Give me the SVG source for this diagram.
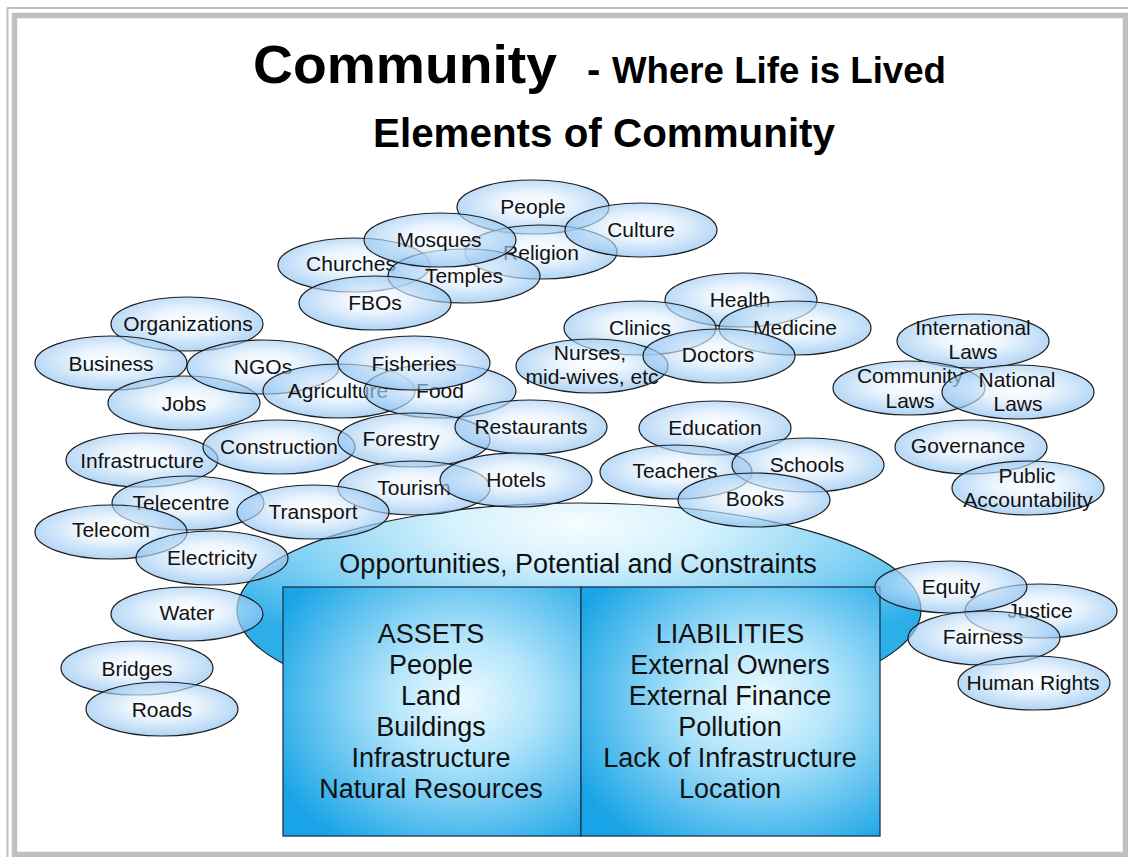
<svg xmlns="http://www.w3.org/2000/svg" width="1128" height="857" viewBox="0 0 1128 857">
<style>
.n ellipse{fill:url(#sg);fill-opacity:.66;stroke:#1e1e1e;stroke-width:1.2}
.n text{font-family:"Liberation Sans",Arial,sans-serif;font-size:21px;fill:#111;text-anchor:middle}
.big{font-family:"Liberation Sans",Arial,sans-serif;font-size:27px;fill:#111;text-anchor:middle}
.ttl{font-family:"Liberation Sans",Arial,sans-serif;font-weight:bold;fill:#000}
</style>
<defs>
<radialGradient id="sg" cx="0.5" cy="0.45" r="0.55">
<stop offset="0" stop-color="#fdfeff"/>
<stop offset="0.4" stop-color="#e2f0fd"/>
<stop offset="1" stop-color="#86bef0"/>
</radialGradient>
<radialGradient id="bg" cx="0.5" cy="0.1" r="0.65">
<stop offset="0" stop-color="#f6fcff"/>
<stop offset="0.28" stop-color="#d6f2fd"/>
<stop offset="0.68" stop-color="#7fd0f4"/>
<stop offset="1" stop-color="#2caee9"/>
</radialGradient>
<radialGradient id="cg" cx="0.6" cy="0.45" r="0.7">
<stop offset="0" stop-color="#eefaff"/>
<stop offset="0.35" stop-color="#b3e5fb"/>
<stop offset="1" stop-color="#18a4e6"/>
</radialGradient>
</defs>
<rect width="1128" height="857" fill="#fff"/>
<g id="frame" fill="none" stroke="#c0c0c0">
<line x1="7" y1="8" x2="1128" y2="8" stroke-width="2"/>
<line x1="7.5" y1="8" x2="7.5" y2="857" stroke-width="2"/>
<rect x="14.5" y="15.5" width="1111" height="839" stroke-width="5.5"/>
</g>
<g id="title">
<text class="ttl" x="253" y="83" font-size="54" textLength="304" lengthAdjust="spacingAndGlyphs">Community</text>
<text class="ttl" x="587" y="83" font-size="40">-</text>
<text class="ttl" x="612" y="83" font-size="36" textLength="334" lengthAdjust="spacingAndGlyphs">Where Life is Lived</text>
<text class="ttl" x="373" y="147" font-size="41" textLength="462" lengthAdjust="spacingAndGlyphs">Elements of Community</text>
</g>
<g id="opportunities">
<ellipse cx="579" cy="610" rx="342" ry="107" fill="url(#bg)" stroke="#1e1e1e" stroke-width="1.2"/>
<text class="big" x="578" y="573">Opportunities, Potential and Constraints</text>
</g>
<g id="balance">
<rect x="283" y="587" width="298" height="249" fill="url(#cg)" stroke="#1b3550" stroke-width="1.3"/>
<rect x="581" y="587" width="299" height="249" fill="url(#cg)" stroke="#1b3550" stroke-width="1.3"/>
<text class="big"><tspan x="431" y="643">ASSETS</tspan><tspan x="431" y="674">People</tspan><tspan x="431" y="705">Land</tspan><tspan x="431" y="736">Buildings</tspan><tspan x="431" y="767">Infrastructure</tspan><tspan x="431" y="798">Natural Resources</tspan></text>
<text class="big"><tspan x="730" y="643">LIABILITIES</tspan><tspan x="730" y="674">External Owners</tspan><tspan x="730" y="705">External Finance</tspan><tspan x="730" y="736">Pollution</tspan><tspan x="730" y="767">Lack of Infrastructure</tspan><tspan x="730" y="798">Location</tspan></text>
</g>
<g id="people" class="n"><ellipse cx="533" cy="207" rx="76" ry="27"/><text x="533" y="214">People</text></g>
<g id="religion" class="n"><ellipse cx="541" cy="252" rx="76" ry="27"/><text x="541" y="260">Religion</text></g>
<g id="culture" class="n"><ellipse cx="641" cy="230" rx="76" ry="27"/><text x="641" y="237">Culture</text></g>
<g id="churches" class="n"><ellipse cx="354" cy="265" rx="76" ry="27"/><text x="351" y="271">Churches</text></g>
<g id="temples" class="n"><ellipse cx="464" cy="276" rx="76" ry="27"/><text x="464" y="283">Temples</text></g>
<g id="mosques" class="n"><ellipse cx="440" cy="240" rx="76" ry="27"/><text x="439" y="247">Mosques</text></g>
<g id="fbos" class="n"><ellipse cx="375" cy="303" rx="76" ry="27"/><text x="375" y="310">FBOs</text></g>
<g id="organizations" class="n"><ellipse cx="187" cy="324" rx="76" ry="27"/><text x="188" y="331">Organizations</text></g>
<g id="business" class="n"><ellipse cx="111" cy="363" rx="76" ry="27"/><text x="111" y="371">Business</text></g>
<g id="jobs" class="n"><ellipse cx="184" cy="403" rx="76" ry="27"/><text x="184" y="411">Jobs</text></g>
<g id="ngos" class="n"><ellipse cx="263" cy="367" rx="76" ry="27"/><text x="263" y="374">NGOs</text></g>
<g id="agriculture" class="n"><ellipse cx="339" cy="391" rx="76" ry="27"/><text x="338" y="398">Agriculture</text></g>
<g id="food" class="n"><ellipse cx="440" cy="391" rx="76" ry="27"/><text x="440" y="398">Food</text></g>
<g id="fisheries" class="n"><ellipse cx="414" cy="363" rx="76" ry="27"/><text x="414" y="371">Fisheries</text></g>
<g id="infrastructure" class="n"><ellipse cx="142" cy="460" rx="76" ry="27"/><text x="142" y="468">Infrastructure</text></g>
<g id="construction" class="n"><ellipse cx="279" cy="447" rx="76" ry="27"/><text x="279" y="454">Construction</text></g>
<g id="forestry" class="n"><ellipse cx="414" cy="440" rx="76" ry="27"/><text x="401" y="446">Forestry</text></g>
<g id="restaurants" class="n"><ellipse cx="531" cy="427" rx="76" ry="27"/><text x="531" y="434">Restaurants</text></g>
<g id="tourism" class="n"><ellipse cx="414" cy="488" rx="76" ry="27"/><text x="414" y="495">Tourism</text></g>
<g id="hotels" class="n"><ellipse cx="516" cy="480" rx="76" ry="27"/><text x="516" y="487">Hotels</text></g>
<g id="telecentre" class="n"><ellipse cx="188" cy="503" rx="76" ry="27"/><text x="181" y="510">Telecentre</text></g>
<g id="telecom" class="n"><ellipse cx="111" cy="532" rx="76" ry="27"/><text x="111" y="537">Telecom</text></g>
<g id="transport" class="n"><ellipse cx="313" cy="512" rx="76" ry="27"/><text x="313" y="519">Transport</text></g>
<g id="electricity" class="n"><ellipse cx="212" cy="558" rx="76" ry="27"/><text x="212" y="565">Electricity</text></g>
<g id="water" class="n"><ellipse cx="187" cy="614" rx="76" ry="27"/><text x="187" y="620">Water</text></g>
<g id="bridges" class="n"><ellipse cx="137" cy="668" rx="76" ry="27"/><text x="137" y="676">Bridges</text></g>
<g id="roads" class="n"><ellipse cx="162" cy="709" rx="76" ry="27"/><text x="162" y="717">Roads</text></g>
<g id="health" class="n"><ellipse cx="741" cy="300" rx="76" ry="27"/><text x="740" y="307">Health</text></g>
<g id="clinics" class="n"><ellipse cx="640" cy="328" rx="76" ry="27"/><text x="640" y="335">Clinics</text></g>
<g id="medicine" class="n"><ellipse cx="795" cy="328" rx="76" ry="27"/><text x="795" y="335">Medicine</text></g>
<g id="nurses" class="n"><ellipse cx="592" cy="366" rx="76" ry="27"/><text><tspan x="590" y="360">Nurses,</tspan><tspan x="592" y="384">mid-wives, etc</tspan></text></g>
<g id="doctors" class="n"><ellipse cx="719" cy="356" rx="76" ry="27"/><text x="718" y="362">Doctors</text></g>
<g id="education" class="n"><ellipse cx="715" cy="428" rx="76" ry="27"/><text x="715" y="435">Education</text></g>
<g id="teachers" class="n"><ellipse cx="676" cy="472" rx="76" ry="27"/><text x="675" y="478">Teachers</text></g>
<g id="schools" class="n"><ellipse cx="808" cy="465" rx="76" ry="27"/><text x="807" y="472">Schools</text></g>
<g id="books" class="n"><ellipse cx="754" cy="500" rx="76" ry="27"/><text x="755" y="506">Books</text></g>
<g id="international-laws" class="n"><ellipse cx="973" cy="341" rx="76" ry="27"/><text><tspan x="973" y="335">International</tspan><tspan x="973" y="359">Laws</tspan></text></g>
<g id="community-laws" class="n"><ellipse cx="909" cy="388" rx="76" ry="27"/><text><tspan x="910" y="383">Community</tspan><tspan x="910" y="408">Laws</tspan></text></g>
<g id="national-laws" class="n"><ellipse cx="1018" cy="392" rx="76" ry="27"/><text><tspan x="1017" y="387">National</tspan><tspan x="1018" y="411">Laws</tspan></text></g>
<g id="governance" class="n"><ellipse cx="971" cy="447" rx="76" ry="27"/><text x="968" y="453">Governance</text></g>
<g id="public-accountability" class="n"><ellipse cx="1028" cy="488" rx="76" ry="27"/><text><tspan x="1027" y="483">Public</tspan><tspan x="1028" y="507">Accountability</tspan></text></g>
<g id="justice" class="n"><ellipse cx="1041" cy="611" rx="76" ry="27"/><text x="1040" y="618">Justice</text></g>
<g id="equity" class="n"><ellipse cx="951" cy="587" rx="76" ry="26"/><text x="951" y="594">Equity</text></g>
<g id="fairness" class="n"><ellipse cx="984" cy="638" rx="76" ry="27"/><text x="983" y="644">Fairness</text></g>
<g id="human-rights" class="n"><ellipse cx="1034" cy="683" rx="76" ry="27"/><text x="1033" y="690">Human Rights</text></g>
<g id="connectors"/>
</svg>
